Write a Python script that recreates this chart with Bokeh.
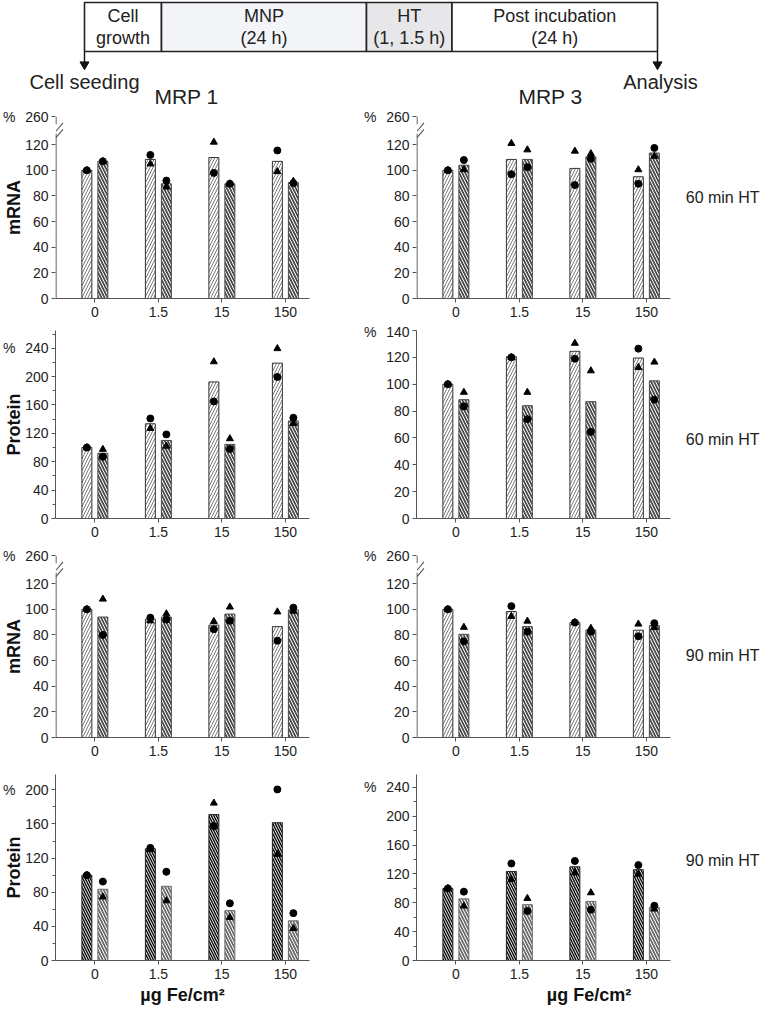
from bokeh.plotting import figure
from bokeh.layouts import column, row
from bokeh.models import Range1d, FixedTicker, Title
from bokeh.embed import file_html
from bokeh.resources import INLINE
from bokeh.core.properties import value

FONT = "Liberation Sans"
TXT = "#222222"
AX = "#555555"

# ---------------- data ----------------
doses = ["0", "1.5", "15", "150"]

stages_top = ["Cell", "MNP", "HT", "Post incubation"]
stages_bottom = ["growth", "(24 h)", "(1, 1.5 h)", "(24 h)"]
stage_edges = [84, 161, 366, 451.5, 657]
stage_fill = ["white", "#f3f5f8", "#e7e7e9", "white"]
events = ["Cell seeding", "Analysis"]
proteins = ["MRP 1", "MRP 3"]

# MRP1 mRNA, 60 min HT
m1_mrna60_a = [100, 108.5, 110, 107]
m1_mrna60_a_c = [100, 112, 98, 115.5]
m1_mrna60_a_t = [100, 105, 122, 99]
m1_mrna60_b = [107, 89.5, 89.5, 90.5]
m1_mrna60_b_c = [107, 92, 89.5, 90]
m1_mrna60_b_t = [107, 87, 89.5, 91.5]
# MRP3 mRNA, 60 min HT
m3_mrna60_a = [100, 108.5, 101.5, 95]
m3_mrna60_a_c = [100, 97, 88.5, 89.5]
m3_mrna60_a_t = [100, 121, 115, 100.5]
m3_mrna60_b = [104, 108.5, 110.5, 113.5]
m3_mrna60_b_c = [108, 102.5, 109, 117.5]
m3_mrna60_b_t = [100.5, 116, 113, 111]
# MRP1 protein, 60 min HT
m1_prot60_a = [100, 133.5, 192.5, 219]
m1_prot60_a_c = [100, 141, 165, 199.5]
m1_prot60_a_t = [100, 127, 221, 239.5]
m1_prot60_b = [92, 110, 104.5, 137.5]
m1_prot60_b_c = [87, 118.5, 98, 142]
m1_prot60_b_t = [97.5, 102, 112.5, 134]
# MRP3 protein, 60 min HT
m3_prot60_a = [100, 120.5, 124.5, 119.5]
m3_prot60_a_c = [100, 120, 119, 126.5]
m3_prot60_a_t = [100, 120, 130.5, 112.5]
m3_prot60_b = [88.5, 84, 87, 102.5]
m3_prot60_b_c = [83.5, 74, 64.5, 88.5]
m3_prot60_b_t = [94, 94, 110, 116.5]
# MRP1 mRNA, 90 min HT
m1_mrna90_a = [100, 92.3, 87.7, 86.5]
m1_mrna90_a_c = [100, 93.5, 84.5, 75.5]
m1_mrna90_a_t = [100, 91, 90.5, 98]
m1_mrna90_b = [94, 94, 96.3, 99.5]
m1_mrna90_b_c = [80, 92, 91, 101.3]
m1_mrna90_b_t = [108, 96.5, 101.8, 98.5]
# MRP3 mRNA, 90 min HT
m3_mrna90_a = [100, 98.3, 89.7, 83.7]
m3_mrna90_a_c = [100, 102.5, 89.7, 79]
m3_mrna90_a_t = [100, 94.5, 89.7, 88.5]
m3_mrna90_b = [80.5, 86.5, 83.8, 87.4]
m3_mrna90_b_c = [75, 82.5, 82.5, 89.2]
m3_mrna90_b_t = [86, 90.8, 85.2, 85.8]
# MRP1 protein, 90 min HT
m1_prot90_a = [100, 131, 171, 161.5]
m1_prot90_a_c = [100, 132, 157.5, 200.5]
m1_prot90_a_t = [100, 130, 184.5, 124.5]
m1_prot90_b = [83.5, 87, 58.5, 46.5]
m1_prot90_b_c = [92.5, 104, 67, 55.5]
m1_prot90_b_t = [74.5, 70, 50.5, 37.5]
# MRP3 protein, 90 min HT
m3_prot90_a = [100, 123.5, 130, 126]
m3_prot90_a_c = [100, 134.5, 138, 132.3]
m3_prot90_a_t = [100, 112.5, 121.7, 119.8]
m3_prot90_b = [85.5, 77.5, 82, 73.5]
m3_prot90_b_c = [95.5, 68.7, 70.5, 76]
m3_prot90_b_t = [75.6, 86.2, 94, 71.4]

# ---------------- geometry / style ----------------
X0 = -0.62
XB = 3.38            # end of the drawn x axis
PX = 63.5            # pixels per category
OFF = 0.126
BW = 0.157
idx = list(range(len(doses)))
xa_pos = [i - OFF for i in idx]
xb_pos = [i + OFF for i in idx]
PCT = "%\u2002\u2009"
TICK_FS = "14px"

STYLE_A = dict(fill_color="white", line_color="#333333", hatch_pattern="/",
               hatch_color="#7a7a7a", hatch_scale=6, hatch_weight=1)
STYLE_B = dict(fill_color="#4e4e4e", line_color="#4a4a4a", hatch_pattern="\\",
               hatch_color="white", hatch_scale=6, hatch_weight=1)
STYLE_A4 = dict(fill_color="white", line_color="#222222", hatch_pattern="\\",
                hatch_color="#111111", hatch_scale=5, hatch_weight=1.5)
STYLE_B4 = dict(fill_color="#6e6e6e", line_color="#6e6e6e", hatch_pattern="\\",
                hatch_color="white", hatch_scale=6, hatch_weight=1)


def panel(a, ac, at, b, bc, bt, ymax, ticks, minor, overrides, frame_w,
          frame_h, top, bottom, left, right, sa, sb, ylabel=None,
          side=None, side_y=None, brk=False, xlabel_off=None):
    x1 = X0 + frame_w / PX
    p = figure(frame_width=frame_w, frame_height=frame_h,
               x_range=Range1d(X0, x1), y_range=Range1d(0, ymax),
               min_border_left=left, min_border_right=right,
               min_border_top=top, min_border_bottom=bottom,
               toolbar_location=None, output_backend="svg")
    p.xgrid.visible = False
    p.ygrid.visible = False
    p.outline_line_color = None

    xa = p.xaxis[0]
    xa.ticker = FixedTicker(ticks=idx)
    xa.bounds = (X0, XB)
    xa.major_label_overrides = {i: d for i, d in zip(idx, doses)}
    xa.major_tick_out = 4
    xa.major_tick_in = 0
    xa.minor_tick_out = 0
    xa.minor_tick_in = 0
    xa.axis_line_color = AX
    xa.major_tick_line_color = AX
    xa.major_label_text_font = FONT
    xa.major_label_text_font_size = TICK_FS
    xa.major_label_text_color = TXT
    xa.major_label_standoff = 4

    ya = p.yaxis[0]
    ya.ticker = FixedTicker(ticks=ticks, minor_ticks=minor)
    ya.major_label_overrides = overrides
    ya.major_tick_out = 4
    ya.major_tick_in = 0
    ya.minor_tick_out = 3
    ya.minor_tick_in = 0
    ya.axis_line_color = AX
    ya.major_tick_line_color = AX
    ya.minor_tick_line_color = AX
    ya.major_label_text_font = FONT
    ya.major_label_text_font_size = TICK_FS
    ya.major_label_text_color = TXT
    ya.major_label_standoff = 3
    if ylabel:
        ya.axis_label = ylabel
        ya.axis_label_text_font = FONT
        ya.axis_label_text_font_style = "bold"
        ya.axis_label_text_font_size = "18px"
        ya.axis_label_text_color = "#111111"
        ya.axis_label_standoff = -24

    if brk:
        # broken y axis: own axis line with a gap and two slashes
        ya.axis_line_color = None
        ax_x = X0 + 0.5 / PX
        p.segment(x0=[ax_x, ax_x], y0=[0, 136], x1=[ax_x, ax_x],
                  y1=[128.5, ymax], line_color=AX, line_width=1.2)
        p.segment(x0=[ax_x, ax_x], y0=[125.5, 130.5],
                  x1=[ax_x + 7 / PX, ax_x + 7 / PX], y1=[132, 137],
                  line_color=AX, line_width=1.1)

    p.vbar(x=xa_pos, top=a, width=BW, bottom=0, line_width=1, **sa)
    p.vbar(x=xb_pos, top=b, width=BW, bottom=0, line_width=1, **sb)
    p.scatter(x=xa_pos + xb_pos, y=at + bt, marker="triangle", size=7,
              color="black")
    p.scatter(x=xa_pos + xb_pos, y=ac + bc, marker="circle", size=7,
              color="black")

    if side:
        p.text(x=[3.62], y=[side_y], text=[side], text_font=value(FONT),
               text_font_size="16px", text_color=TXT, text_align="left",
               text_baseline="middle")
    if xlabel_off is not None:
        p.add_layout(Title(text="µg Fe/cm²", align="center",
                           offset=xlabel_off, standoff=3, text_font=FONT,
                           text_font_size="18px", text_font_style="bold",
                           text_color="#111111"), "below")
    return p


LB = dict(frame_w=254, left=50, right=51)
RB = dict(frame_w=345, left=55, right=0)

mrna_ticks = [0, 20, 40, 60, 80, 100, 120, 142]
mrna_over = {142: PCT + "260"}

# header
h = figure(width=757, height=108, x_range=Range1d(0, 757),
           y_range=Range1d(108, 0), min_border=0, toolbar_location=None,
           output_backend="svg", x_axis_location=None, y_axis_location=None)
h.xgrid.visible = False
h.ygrid.visible = False
h.outline_line_color = None
h.quad(left=stage_edges[:-1], right=stage_edges[1:], top=2, bottom=51,
       fill_color=stage_fill, line_color="#222222", line_width=1.6)
mids = [(stage_edges[i] + stage_edges[i + 1]) / 2 for i in range(len(stages_top))]
h.text(x=mids, y=[15] * 4, text=stages_top, text_font=value(FONT),
       text_font_size="18px", text_color=TXT, text_align="center",
       text_baseline="middle")
h.text(x=mids, y=[37] * 4, text=stages_bottom, text_font=value(FONT),
       text_font_size="18px", text_color=TXT, text_align="center",
       text_baseline="middle")
ends = [stage_edges[0], stage_edges[-1]]
h.segment(x0=ends, y0=[51, 51], x1=ends, y1=[63, 63], line_color="#111111",
          line_width=1.4)
h.scatter(x=ends, y=[64, 64], marker="inverted_triangle", size=9,
          color="#111111")
h.text(x=[84, 660], y=[81, 81], text=events, text_font=value(FONT),
       text_font_size="20px", text_color=TXT, text_align="center",
       text_baseline="middle")
h.text(x=[186, 550], y=[96, 96], text=proteins, text_font=value(FONT),
       text_font_size="21px", text_color=TXT, text_align="center",
       text_baseline="middle")

p1 = panel(m1_mrna60_a, m1_mrna60_a_c, m1_mrna60_a_t, m1_mrna60_b,
           m1_mrna60_b_c, m1_mrna60_b_t, 142, mrna_ticks, [], mrna_over,
           frame_h=182, top=8, bottom=25, sa=STYLE_A, sb=STYLE_B,
           ylabel="mRNA", brk=True, **LB)
p2 = panel(m3_mrna60_a, m3_mrna60_a_c, m3_mrna60_a_t, m3_mrna60_b,
           m3_mrna60_b_c, m3_mrna60_b_t, 142, mrna_ticks, [], mrna_over,
           frame_h=182, top=8, bottom=25, sa=STYLE_A, sb=STYLE_B, brk=True,
           side="60 min HT", side_y=79, **RB)
p3 = panel(m1_prot60_a, m1_prot60_a_c, m1_prot60_a_t, m1_prot60_b,
           m1_prot60_b_c, m1_prot60_b_t, 265, [0, 40, 80, 120, 160, 200, 240],
           [20, 60, 100, 140, 180, 220, 260], {240: PCT + "240"},
           frame_h=188, top=7, bottom=25, sa=STYLE_A, sb=STYLE_B,
           ylabel="Protein", **LB)
p4 = panel(m3_prot60_a, m3_prot60_a_c, m3_prot60_a_t, m3_prot60_b,
           m3_prot60_b_c, m3_prot60_b_t, 140,
           [0, 20, 40, 60, 80, 100, 120, 140], [], {140: PCT + "140"},
           frame_h=188, top=7, bottom=25, sa=STYLE_A, sb=STYLE_B,
           side="60 min HT", side_y=59, **RB)
p5 = panel(m1_mrna90_a, m1_mrna90_a_c, m1_mrna90_a_t, m1_mrna90_b,
           m1_mrna90_b_c, m1_mrna90_b_t, 142, mrna_ticks, [], mrna_over,
           frame_h=182, top=12, bottom=25, sa=STYLE_A, sb=STYLE_B,
           ylabel="mRNA", brk=True, **LB)
p6 = panel(m3_mrna90_a, m3_mrna90_a_c, m3_mrna90_a_t, m3_mrna90_b,
           m3_mrna90_b_c, m3_mrna90_b_t, 142, mrna_ticks, [], mrna_over,
           frame_h=182, top=12, bottom=25, sa=STYLE_A, sb=STYLE_B, brk=True,
           side="90 min HT", side_y=64, **RB)
p7 = panel(m1_prot90_a, m1_prot90_a_c, m1_prot90_a_t, m1_prot90_b,
           m1_prot90_b_c, m1_prot90_b_t, 218, [0, 40, 80, 120, 160, 200],
           [20, 60, 100, 140, 180], {200: PCT + "200"},
           frame_h=186, top=12, bottom=25, sa=STYLE_A4, sb=STYLE_B4,
           ylabel="Protein", xlabel_off=27, **LB)
p8 = panel(m3_prot90_a, m3_prot90_a_c, m3_prot90_a_t, m3_prot90_b,
           m3_prot90_b_c, m3_prot90_b_t, 258, [0, 40, 80, 120, 160, 200, 240],
           [20, 60, 100, 140, 180, 220], {240: PCT + "240"},
           frame_h=186, top=12, bottom=25, sa=STYLE_A4, sb=STYLE_B4,
           side="90 min HT", side_y=139, xlabel_off=-20, **RB)

layout = column(h, row(p1, p2), row(p3, p4), row(p5, p6), row(p7, p8))

open("out.html", "w").write(file_html(layout, INLINE))
